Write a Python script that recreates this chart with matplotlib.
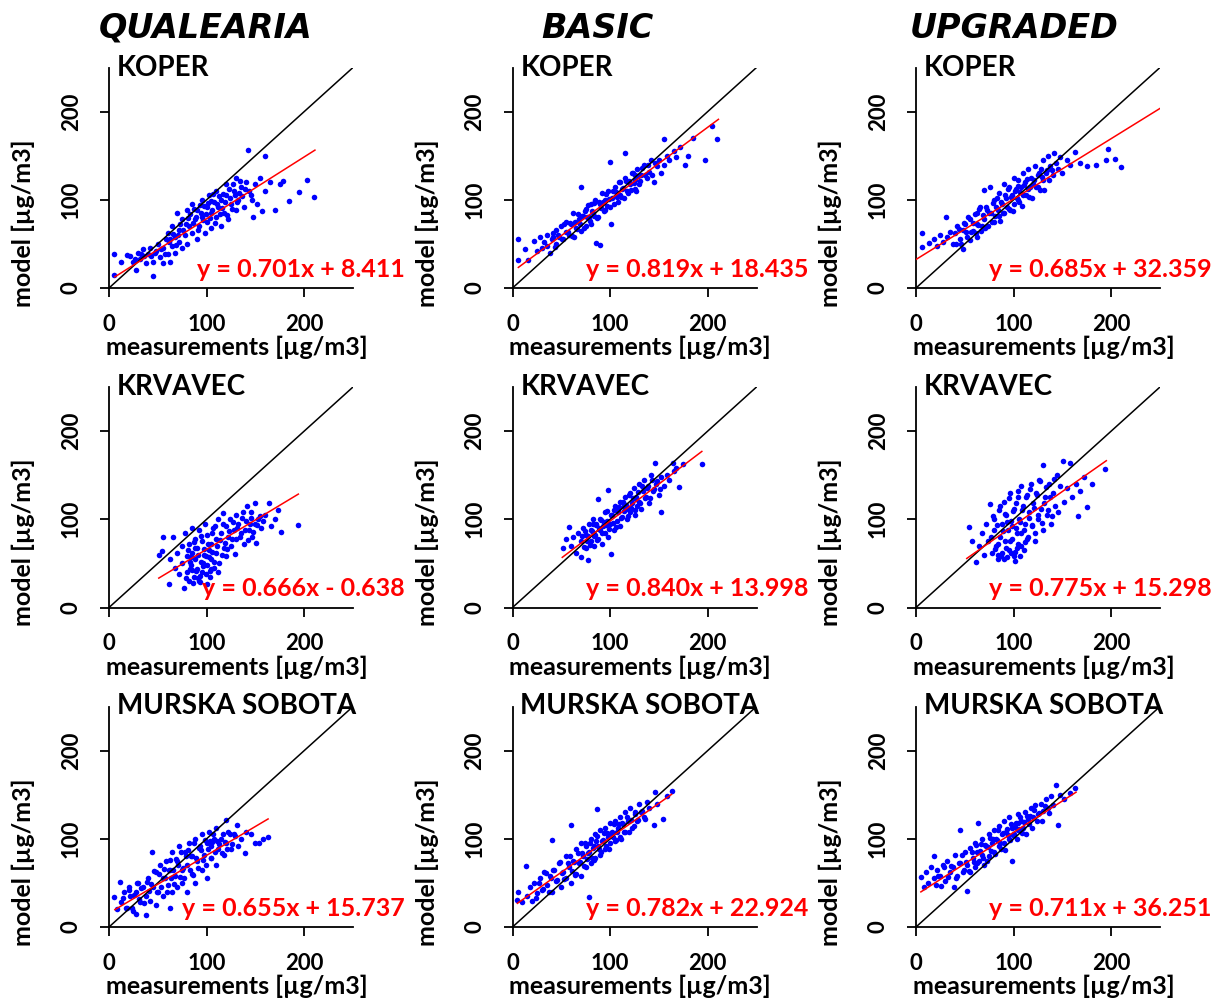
import matplotlib.pyplot as plt

plt.rcParams['font.family'] = ['Lato', 'DejaVu Sans']

models = ['QUALEARIA', 'BASIC', 'UPGRADED']
stations = ['KOPER', 'KRVAVEC', 'MURSKA SOBOTA']

# regression coefficients (rows = stations, cols = models)
slopes = [[0.701, 0.819, 0.685],
          [0.666, 0.840, 0.775],
          [0.655, 0.782, 0.711]]
intercepts = [[8.411, 18.435, 32.359],
              [-0.638, 13.998, 15.298],
              [15.737, 22.924, 36.251]]
# x extent of the fitted red line
fit_from = [[6, 6, 0], [51, 51, 52], [6, 5, 5]]
fit_to = [[211, 211, 250], [194, 194, 195], [163, 163, 164]]

q_koper_x = [5, 5, 12, 18, 22, 25, 28, 30, 32, 35, 38, 40, 42, 45, 45, 48, 50, 52, 55, 55, 58, 60, 60, 62, 65, 65, 68, 68, 70, 72, 72, 75, 75, 78, 80, 80, 82, 85, 85, 88, 90, 90, 92, 95, 95, 98, 100, 100, 102, 105, 105, 108, 110, 110, 112, 115, 115, 118, 120, 120, 122, 125, 128, 130, 130, 132, 135, 138, 140, 142, 145, 148, 150, 152, 155, 157, 160, 160, 165, 170, 175, 178, 184, 195, 203, 210,
             43, 47, 53, 57, 61, 63, 66, 69, 71, 73, 76, 79, 81, 83, 86, 87, 89, 91, 93, 94, 96, 97, 99, 101, 103, 104, 106, 107, 109, 111, 113, 114, 116, 117, 119, 121, 123, 124, 126, 127, 129, 131, 133, 134, 136, 139, 143, 147, 36, 33, 27]
q_koper_y = [39, 15, 30, 37, 36, 30, 20, 40, 33, 44, 28, 38, 45, 14, 30, 42, 50, 35, 28, 45, 55, 38, 62, 30, 48, 70, 40, 58, 85, 52, 66, 45, 78, 60, 88, 50, 70, 95, 62, 78, 55, 88, 70, 100, 80, 62, 92, 75, 105, 85, 68, 98, 80, 110, 92, 70, 100, 85, 105, 118, 78, 95, 110, 88, 125, 100, 115, 92, 120, 157, 105, 81, 118, 95, 125, 87, 150, 110, 120, 88, 118, 121, 99, 109, 122, 103,
             36, 40, 44, 38, 52, 55, 61, 49, 60, 72, 66, 72, 79, 84, 74, 90, 81, 66, 94, 85, 77, 93, 84, 96, 79, 99, 88, 107, 74, 95, 104, 84, 91, 107, 98, 83, 112, 102, 90, 118, 106, 98, 108, 121, 104, 112, 110, 100, 36, 39, 33]

b_koper_x = [6, 6, 13, 16, 22, 25, 28, 30, 32, 35, 35, 38, 40, 42, 45, 45, 48, 50, 52, 55, 55, 58, 60, 62, 63, 65, 68, 70, 70, 72, 75, 75, 78, 80, 80, 82, 85, 86, 88, 90, 90, 92, 95, 95, 98, 100, 100, 101, 102, 105, 108, 110, 110, 112, 115, 115, 118, 120, 122, 125, 125, 128, 130, 132, 135, 138, 140, 142, 145, 148, 150, 152, 155, 155, 158, 160, 165, 168, 172, 177, 180, 185, 197, 204, 210,
             41, 44, 47, 51, 53, 57, 59, 61, 64, 66, 67, 69, 71, 73, 74, 76, 77, 79, 81, 83, 84, 87, 89, 91, 93, 94, 96, 97, 99, 103, 104, 106, 107, 109, 111, 113, 114, 116, 117, 119, 121, 123, 124, 126, 127, 129, 131, 133, 136, 139, 143, 146]
b_koper_y = [56, 32, 44, 32, 53, 42, 58, 45, 52, 48, 60, 40, 55, 62, 50, 66, 58, 70, 55, 64, 75, 60, 72, 85, 58, 68, 78, 115, 65, 82, 70, 90, 80, 95, 72, 85, 100, 51, 80, 49, 95, 108, 88, 100, 110, 143, 92, 73, 102, 115, 98, 120, 105, 112, 153, 125, 108, 118, 130, 112, 122, 135, 118, 128, 140, 125, 132, 145, 120, 138, 145, 130, 169, 140, 150, 145, 155, 148, 160, 139, 150, 170, 145, 184, 169,
             58, 47, 60, 55, 72, 63, 74, 59, 75, 67, 84, 72, 82, 68, 87, 80, 94, 76, 87, 82, 96, 79, 97, 91, 98, 87, 107, 93, 101, 110, 95, 109, 103, 120, 103, 113, 102, 121, 110, 121, 111, 130, 119, 128, 110, 127, 121, 136, 128, 139, 128, 142]

u_koper_x = [6, 6, 13, 18, 22, 25, 28, 31, 32, 35, 38, 40, 42, 45, 48, 48, 50, 52, 55, 55, 58, 60, 62, 63, 65, 67, 70, 70, 72, 74, 76, 77, 80, 80, 82, 85, 85, 88, 90, 90, 92, 95, 95, 98, 100, 100, 102, 105, 105, 108, 110, 110, 112, 115, 115, 118, 120, 122, 125, 125, 128, 130, 130, 133, 135, 137, 140, 141, 143, 145, 148, 150, 155, 158, 163, 168, 175, 184, 195, 197, 204, 210,
             41, 44, 46, 49, 51, 53, 56, 58, 61, 63, 64, 66, 68, 69, 71, 73, 75, 78, 79, 81, 83, 84, 86, 87, 89, 91, 93, 94, 96, 97, 99, 101, 103, 104, 106, 107, 109, 111, 113, 114, 116, 117, 119, 121, 123, 126, 127, 129, 131, 134, 136, 139]
u_koper_y = [62, 46, 51, 55, 48, 60, 52, 81, 58, 64, 50, 62, 70, 55, 44, 66, 72, 58, 54, 78, 65, 84, 58, 72, 90, 65, 111, 78, 92, 70, 114, 85, 100, 75, 92, 82, 108, 95, 118, 85, 102, 90, 115, 105, 125, 95, 112, 100, 122, 115, 130, 105, 120, 112, 135, 125, 118, 138, 128, 115, 135, 145, 122, 130, 150, 138, 128, 153, 142, 135, 148, 130, 145, 140, 154, 142, 138, 140, 145, 158, 146, 137,
             50, 67, 50, 74, 64, 81, 64, 74, 62, 85, 71, 92, 70, 83, 68, 89, 85, 75, 96, 82, 102, 88, 76, 98, 85, 106, 92, 112, 88, 103, 87, 110, 102, 116, 98, 109, 93, 117, 105, 124, 103, 114, 102, 122, 114, 130, 111, 126, 111, 134, 122, 134]

q_krv_x = [51, 54, 55, 61, 62, 66, 68, 70, 72, 75, 75, 77, 78, 80, 80, 82, 82, 84, 85, 85, 87, 88, 88, 90, 90, 92, 92, 94, 95, 95, 97, 98, 100, 100, 100, 102, 103, 105, 105, 107, 108, 110, 110, 112, 113, 115, 117, 118, 120, 120, 122, 124, 125, 128, 130, 130, 132, 135, 137, 138, 140, 141, 143, 145, 147, 150, 150, 151, 153, 156, 160, 164, 166, 170, 173, 176, 194,
           79, 81, 83, 84, 86, 87, 89, 91, 93, 94, 96, 97, 99, 101, 102, 104, 106, 106, 108, 109, 111, 112, 114, 116, 117, 119, 121, 123, 126, 127, 129, 131, 134, 136, 139, 142, 144, 146, 148, 152, 155, 158, 85, 91, 96, 88, 83, 93, 99, 103]
q_krv_y = [60, 64, 80, 27, 55, 80, 45, 62, 38, 50, 70, 22, 85, 40, 58, 30, 72, 48, 90, 62, 35, 55, 78, 44, 68, 30, 88, 52, 75, 40, 60, 95, 27, 48, 82, 65, 35, 72, 55, 90, 45, 78, 62, 100, 50, 85, 107, 68, 92, 58, 80, 100, 70, 88, 105, 78, 95, 85, 108, 72, 98, 115, 88, 102, 80, 118, 95, 73, 100, 90, 105, 118, 92, 100, 110, 86, 94,
           33, 65, 44, 57, 28, 74, 41, 60, 36, 81, 50, 66, 38, 72, 57, 44, 84, 63, 52, 92, 70, 40, 77, 60, 95, 73, 66, 87, 78, 97, 61, 90, 80, 102, 88, 76, 95, 108, 86, 93, 104, 98, 42, 34, 47, 67, 52, 29, 58, 41]

b_krv_x = [52, 55, 58, 60, 62, 65, 67, 70, 70, 72, 75, 75, 77, 78, 80, 80, 82, 83, 85, 86, 88, 88, 90, 90, 92, 93, 95, 95, 97, 98, 98, 100, 101, 102, 104, 105, 107, 108, 110, 110, 112, 114, 115, 117, 118, 120, 120, 122, 124, 125, 127, 128, 130, 130, 132, 134, 135, 137, 139, 140, 142, 144, 146, 147, 150, 152, 152, 155, 158, 160, 164, 165, 168, 171, 175, 194,
           71, 73, 74, 76, 77, 79, 81, 82, 84, 86, 87, 89, 91, 92, 94, 96, 97, 99, 101, 103, 104, 106, 108, 109, 111, 113, 114, 116, 118, 119, 121, 123, 126, 127, 129, 131, 133, 136, 138, 141, 143, 145, 148, 151]
b_krv_y = [68, 78, 91, 70, 80, 62, 85, 57, 75, 90, 68, 82, 54, 95, 75, 88, 100, 70, 82, 95, 123, 78, 88, 100, 72, 92, 85, 108, 98, 133, 80, 95, 61, 105, 88, 115, 98, 110, 92, 120, 103, 115, 125, 100, 112, 130, 108, 118, 135, 105, 125, 115, 140, 120, 112, 132, 145, 125, 138, 118, 150, 132, 164, 140, 128, 108, 148, 138, 150, 145, 164, 155, 158, 137, 163, 163,
           81, 69, 87, 75, 81, 71, 87, 95, 81, 94, 76, 90, 99, 84, 97, 93, 109, 89, 105, 96, 111, 91, 108, 114, 101, 120, 109, 116, 104, 128, 113, 124, 110, 123, 131, 118, 138, 124, 136, 124, 144, 134, 143, 134]

u_krv_x = [54, 57, 61, 65, 68, 70, 72, 74, 76, 78, 80, 80, 82, 84, 85, 86, 88, 88, 90, 90, 91, 92, 94, 95, 96, 97, 98, 100, 100, 101, 102, 104, 105, 106, 108, 108, 110, 111, 112, 114, 115, 116, 118, 119, 120, 122, 123, 125, 126, 128, 130, 130, 132, 134, 136, 138, 140, 142, 144, 146, 148, 151, 152, 155, 158, 160, 164, 166, 168, 172, 175, 180, 194,
           77, 79, 81, 83, 84, 86, 87, 89, 91, 92, 93, 95, 96, 98, 99, 101, 102, 103, 105, 107, 108, 109, 111, 113, 114, 116, 117, 119, 121, 122, 124, 125, 127, 129, 131, 133, 135, 137, 139, 141, 84, 93, 97, 103, 107, 112]
u_krv_y = [91, 75, 52, 70, 85, 60, 95, 75, 117, 62, 88, 100, 70, 55, 110, 80, 95, 62, 55, 120, 75, 105, 88, 65, 130, 98, 78, 112, 58, 53, 90, 125, 72, 100, 85, 138, 115, 65, 95, 128, 80, 108, 140, 92, 118, 75, 130, 100, 145, 112, 161, 88, 125, 105, 140, 95, 130, 115, 150, 108, 138, 166, 120, 135, 164, 125, 140, 104, 132, 148, 114, 140, 157,
           80, 104, 66, 93, 72, 115, 58, 87, 106, 68, 97, 124, 75, 92, 109, 63, 118, 84, 132, 97, 70, 110, 88, 125, 78, 102, 134, 94, 113, 84, 128, 105, 143, 96, 118, 137, 110, 125, 104, 146, 60, 57, 62, 67, 58, 74]

q_ms_x = [5, 8, 11, 12, 15, 18, 20, 22, 25, 28, 28, 30, 32, 35, 38, 38, 40, 42, 44, 45, 48, 48, 50, 52, 55, 55, 58, 60, 62, 62, 65, 65, 68, 70, 70, 72, 75, 75, 78, 80, 80, 82, 85, 85, 88, 88, 90, 92, 95, 95, 97, 100, 100, 102, 105, 105, 108, 110, 110, 112, 115, 118, 120, 120, 122, 125, 128, 131, 132, 135, 139, 140, 146, 150, 154, 158, 163,
          14, 17, 21, 24, 26, 29, 31, 33, 36, 39, 41, 43, 46, 49, 51, 53, 56, 57, 59, 61, 63, 64, 66, 67, 69, 71, 73, 74, 76, 77, 79, 81, 83, 84, 86, 87, 89, 91, 93, 94, 96, 98, 99, 101, 103, 104, 106, 107, 109, 111, 113, 116, 117, 119, 121, 124, 126, 129]
q_ms_y = [34, 20, 51, 28, 40, 22, 45, 35, 18, 15, 40, 50, 28, 45, 14, 35, 55, 30, 85, 45, 25, 62, 40, 70, 35, 55, 75, 48, 21, 65, 40, 85, 58, 75, 45, 92, 65, 50, 85, 40, 70, 95, 60, 80, 100, 50, 75, 90, 65, 105, 82, 95, 55, 108, 78, 92, 100, 70, 112, 88, 100, 82, 121, 95, 108, 88, 105, 116, 92, 100, 84, 108, 105, 95, 95, 100, 102,
          33, 21, 42, 22, 36, 50, 32, 44, 27, 51, 41, 49, 63, 40, 60, 45, 66, 55, 40, 65, 76, 55, 65, 49, 77, 70, 57, 85, 67, 56, 80, 87, 65, 80, 59, 95, 78, 67, 92, 87, 76, 99, 70, 89, 97, 78, 96, 106, 85, 97, 94, 84, 105, 96, 89, 106, 94, 103]

b_ms_x = [5, 6, 10, 14, 15, 18, 20, 22, 25, 28, 30, 32, 35, 38, 40, 40, 42, 45, 48, 50, 52, 55, 55, 58, 60, 60, 62, 65, 65, 68, 70, 70, 72, 75, 75, 78, 78, 80, 80, 82, 85, 85, 87, 88, 90, 90, 92, 95, 95, 98, 100, 100, 102, 105, 105, 108, 110, 110, 112, 115, 115, 118, 120, 122, 125, 128, 130, 132, 135, 138, 140, 145, 146, 148, 154, 158, 163,
          24, 27, 31, 34, 37, 39, 43, 46, 49, 51, 53, 57, 59, 61, 63, 64, 67, 69, 71, 73, 74, 76, 77, 79, 81, 83, 84, 86, 87, 89, 91, 93, 94, 96, 97, 99, 101, 103, 104, 106, 107, 109, 111, 113, 114, 117, 119, 121, 124, 126, 129, 133, 136]
b_ms_y = [31, 40, 28, 69, 35, 45, 30, 50, 38, 55, 42, 62, 48, 58, 99, 40, 65, 52, 72, 45, 62, 80, 55, 68, 116, 50, 75, 88, 60, 72, 95, 58, 80, 68, 92, 34, 85, 100, 72, 90, 78, 105, 134, 92, 82, 110, 98, 88, 112, 102, 95, 118, 108, 98, 120, 112, 102, 125, 118, 108, 130, 120, 135, 112, 128, 120, 140, 130, 125, 142, 135, 116, 153, 140, 123, 148, 154,
          33, 50, 43, 61, 40, 56, 65, 53, 74, 61, 54, 73, 81, 64, 74, 59, 84, 74, 84, 69, 95, 77, 84, 95, 78, 92, 76, 97, 103, 89, 85, 99, 107, 92, 107, 88, 107, 102, 117, 99, 108, 117, 100, 117, 108, 125, 108, 121, 114, 130, 121, 132, 122]

u_ms_x = [5, 8, 10, 12, 15, 18, 18, 20, 22, 25, 28, 30, 32, 35, 38, 39, 40, 42, 45, 45, 48, 50, 52, 52, 55, 55, 58, 60, 60, 62, 64, 65, 68, 68, 70, 72, 75, 75, 78, 80, 80, 82, 85, 85, 88, 90, 90, 92, 95, 95, 98, 98, 100, 102, 105, 105, 108, 110, 112, 115, 118, 120, 122, 125, 128, 130, 133, 135, 138, 140, 143, 146, 148, 152, 158, 163,
          23, 26, 29, 33, 36, 41, 44, 47, 49, 51, 54, 57, 59, 61, 63, 66, 67, 69, 71, 73, 74, 76, 77, 79, 81, 83, 84, 86, 87, 89, 91, 93, 94, 96, 97, 99, 101, 103, 104, 106, 107, 109, 111, 113, 114, 116, 117, 119, 121, 124, 126, 129, 132, 136]
u_ms_y = [57, 45, 62, 50, 68, 80, 55, 48, 65, 58, 70, 52, 75, 62, 68, 45, 82, 58, 110, 72, 62, 85, 41, 70, 90, 62, 78, 95, 68, 85, 118, 75, 100, 82, 70, 92, 105, 80, 95, 110, 85, 100, 92, 115, 105, 95, 120, 108, 100, 125, 75, 112, 105, 118, 110, 128, 120, 112, 130, 122, 135, 125, 138, 128, 140, 132, 145, 135, 148, 138, 161, 116, 150, 145, 152, 158,
          58, 47, 68, 57, 69, 55, 72, 82, 65, 74, 63, 85, 74, 93, 72, 86, 94, 78, 93, 75, 91, 101, 86, 100, 83, 99, 110, 95, 89, 107, 87, 111, 104, 99, 117, 104, 113, 100, 118, 111, 125, 107, 119, 105, 126, 117, 126, 112, 133, 120, 129, 120, 137, 129]

points_x = [[q_koper_x, b_koper_x, u_koper_x],
            [q_krv_x, b_krv_x, u_krv_x],
            [q_ms_x, b_ms_x, u_ms_x]]
points_y = [[q_koper_y, b_koper_y, u_koper_y],
            [q_krv_y, b_krv_y, u_krv_y],
            [q_ms_y, b_ms_y, u_ms_y]]

W, H = 1215, 1002
fig = plt.figure(figsize=(W / 100, H / 100), dpi=100)

ax_w, ax_h = 244, 220.5
for r in range(3):
    for c in range(3):
        left = 109 + 403.5 * c
        bottom = 288 + 319.5 * r
        ax = fig.add_axes([left / W, 1 - bottom / H, ax_w / W, ax_h / H])
        ax.set_xlim(0, 250)
        ax.set_ylim(0, 250)
        for s in ['top', 'right']:
            ax.spines[s].set_visible(False)
        for s in ['left', 'bottom']:
            ax.spines[s].set_linewidth(1.3)

        ax.scatter(points_x[r][c], points_y[r][c], s=16, color='#0000ff',
                   linewidths=0, clip_on=False, zorder=2)
        ax.plot([0, 250], [0, 250], color='black', lw=1.1, zorder=3)
        sl, ic = slopes[r][c], intercepts[r][c]
        x0, x1 = fit_from[r][c], fit_to[r][c]
        ax.plot([x0, x1], [sl * x0 + ic, sl * x1 + ic], color='red', lw=1.1, zorder=4)

        ax.set_xticks([0, 100, 200])
        ax.set_yticks([0, 100, 200])
        ax.tick_params(direction='out', length=6.5, width=1.3, labelsize=16)
        ax.tick_params(axis='x', pad=12)
        ax.tick_params(axis='y', pad=13)
        for lab in ax.get_xticklabels() + ax.get_yticklabels():
            lab.set_fontweight('bold')
        for lab in ax.get_yticklabels():
            lab.set_rotation(90)
            lab.set_va('center')

        ax.set_xlabel('measurements [µg/m3]', fontsize=18, fontweight='bold')
        ax.set_ylabel('model [µg/m3]', fontsize=18, fontweight='bold')
        ax.xaxis.label.set_va('center')
        ax.yaxis.label.set_va('center')
        ax.xaxis.set_label_coords(0.524, -0.27)
        ax.yaxis.set_label_coords(-0.35, 0.295)

        ax.text(8, 250, stations[r], ha='left', va='center', fontsize=20,
                fontweight='bold', clip_on=False)
        sign = '+' if ic >= 0 else '-'
        eq = f'y = {sl:.3f}x {sign} {abs(ic):.3f}'
        ax.text(303, 21, eq, ha='right', va='center', color='red', fontsize=18,
                fontweight='bold', clip_on=False)

title_x = [206, 597, 1014]
for c in range(3):
    fig.text(title_x[c] / W, 1 - 28 / H, models[c], ha='center', va='center',
             fontsize=24, family='DejaVu Sans', fontweight='bold', style='italic')

fig.savefig('out.png', dpi=100)
